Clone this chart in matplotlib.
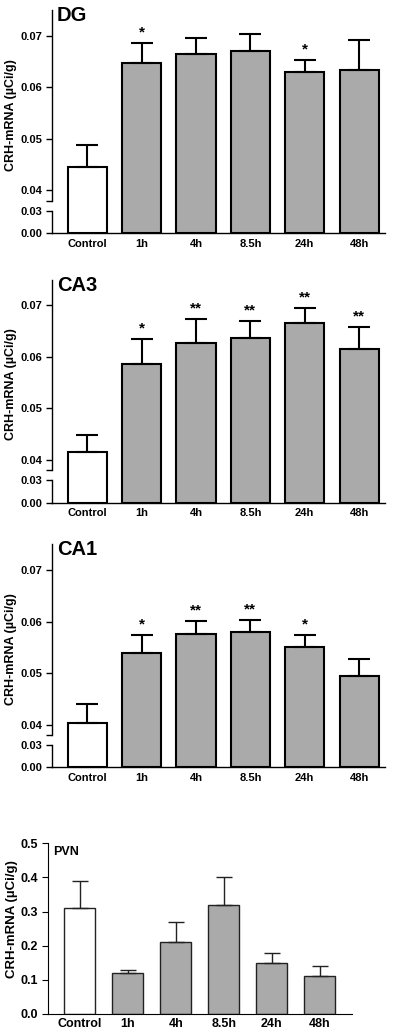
import numpy as np
import matplotlib
matplotlib.use('Agg')
import matplotlib.pyplot as plt

plt.rcParams['font.family'] = ['Liberation Sans', 'DejaVu Sans']
plt.rcParams['font.weight'] = 'bold'

groups = ['Control', '1h', '4h', '8.5h', '24h', '48h']

dg_mean = [0.0445, 0.0647, 0.0665, 0.0670, 0.0630, 0.0633]
dg_err = [0.0043, 0.0039, 0.0031, 0.0033, 0.0023, 0.0059]
dg_stars = ['', '*', '', '', '*', '']

ca3_mean = [0.0415, 0.0587, 0.0627, 0.0637, 0.0666, 0.0616]
ca3_err = [0.0034, 0.0047, 0.0046, 0.0032, 0.0029, 0.0043]
ca3_stars = ['', '*', '**', '**', '**', '**']

ca1_mean = [0.0402, 0.0538, 0.0575, 0.0579, 0.0551, 0.0495]
ca1_err = [0.0038, 0.0036, 0.0026, 0.0024, 0.0023, 0.0033]
ca1_stars = ['', '*', '**', '**', '*', '']

pvn_mean = [0.31, 0.12, 0.21, 0.32, 0.15, 0.11]
pvn_err = [0.08, 0.01, 0.06, 0.08, 0.03, 0.03]

hippo_ticks = [0.00, 0.03, 0.04, 0.05, 0.06, 0.07]
hippo_labels = ['0.00', '0.03', '0.04', '0.05', '0.06', '0.07']
pvn_ticks = [0.0, 0.1, 0.2, 0.3, 0.4, 0.5]

YLABEL = 'CRH-mRNA (\u00b5Ci/g)'
GRAY = '#aaaaaa'

# broken y axis: squeeze 0-0.03, short gap 0.03-0.04, stretch above 0.04
LOW, MID, HIGH = 22.3 / 0.03, 20.5 / 0.01, 51.5 / 0.01
Y1, Y2 = 0.03 * LOW, 0.03 * LOW + 0.01 * MID


def fwd(y):
    y = np.asarray(y, dtype=float)
    return np.where(y <= 0.03, y * LOW,
                    np.where(y <= 0.04, Y1 + (y - 0.03) * MID,
                             Y2 + (y - 0.04) * HIGH))


def inv(p):
    p = np.asarray(p, dtype=float)
    return np.where(p <= Y1, p / LOW,
                    np.where(p <= Y2, 0.03 + (p - Y1) / MID,
                             0.04 + (p - Y2) / HIGH))


def draw_bars(ax, mean, err, width, lw, capsize, edge):
    x = np.arange(len(groups))
    colors = ['white'] + [GRAY] * (len(groups) - 1)
    ax.bar(x, mean, width=width, color=colors, edgecolor=edge,
           linewidth=lw, zorder=2)
    ax.errorbar(x, mean, yerr=[np.zeros(len(err)), err], fmt='none',
                ecolor=edge, elinewidth=lw, capsize=capsize, capthick=lw,
                zorder=3)
    ax.set_xticks(x)
    ax.set_xticklabels(groups)
    for s in ('top', 'right'):
        ax.spines[s].set_visible(False)


def hippo_panel(bottom, title, mean, err, stars):
    ax = fig.add_axes([0.129, bottom, 0.833, 223 / 1033])
    ax.set_yscale('function', functions=(fwd, inv))
    draw_bars(ax, mean, err, 0.72, 1.5, 7.8, 'black')
    ax.set_xlim(-0.653, 5.47)
    ax.set_ylim(0, 0.075)
    ax.set_yticks(hippo_ticks)
    ax.set_yticklabels(hippo_labels)
    ax.set_yticks([0.0351], minor=True)
    ax.tick_params(axis='y', which='both', direction='out', length=4,
                   width=1, labelsize=8, pad=3)
    ax.tick_params(axis='x', length=0, labelsize=8, pad=4)
    # left spine with a gap between 0.03 and the break
    ax.spines['left'].set_visible(False)
    tr = ax.get_yaxis_transform()
    ax.plot([0, 0], [0, 0.03], transform=tr, color='black', lw=1,
            clip_on=False)
    ax.plot([0, 0], [0.0351, 0.075], transform=tr, color='black', lw=1,
            clip_on=False)
    ax.spines['bottom'].set_linewidth(1)
    for i, s in enumerate(stars):
        if s:
            ax.annotate(s, (i, mean[i] + err[i]), xytext=(0, 2.5),
                        textcoords='offset points', ha='center',
                        va='bottom', fontsize=11, fontweight='bold')
    ax.text(0.016, 0.95, title, transform=ax.transAxes, fontsize=14.5,
            fontweight='bold', va='baseline', ha='left')
    ax.set_ylabel(YLABEL, fontsize=9, fontweight='bold')
    ax.yaxis.set_label_coords(-0.105, 0.53)
    return ax


fig = plt.figure(figsize=(4, 10.33), dpi=100)

hippo_panel(0.7742, 'DG', dg_mean, dg_err, dg_stars)
hippo_panel(0.5134, 'CA3', ca3_mean, ca3_err, ca3_stars)
hippo_panel(0.2572, 'CA1', ca1_mean, ca1_err, ca1_stars)

ax = fig.add_axes([0.12, 0.0184, 0.76, 0.1652])
draw_bars(ax, pvn_mean, pvn_err, 0.65, 1.0, 6, '#222222')
ax.set_xlim(-0.66, 5.67)
ax.set_ylim(0, 0.5)
ax.set_yticks(pvn_ticks)
ax.set_yticklabels([f'{t:.1f}' for t in pvn_ticks])
ax.spines['left'].set_linewidth(0.8)
ax.spines['bottom'].set_linewidth(0.8)
ax.tick_params(axis='y', direction='out', length=4, width=0.8,
               labelsize=9, pad=3)
ax.tick_params(axis='x', length=0, labelsize=9, pad=3)
ax.text(0.017, 0.931, 'PVN', transform=ax.transAxes, fontsize=9,
        fontweight='bold', va='baseline', ha='left')
ax.set_ylabel(YLABEL, fontsize=9.5, fontweight='bold')
ax.yaxis.set_label_coords(-0.098, 0.556)

fig.savefig('out.png', dpi=100)
